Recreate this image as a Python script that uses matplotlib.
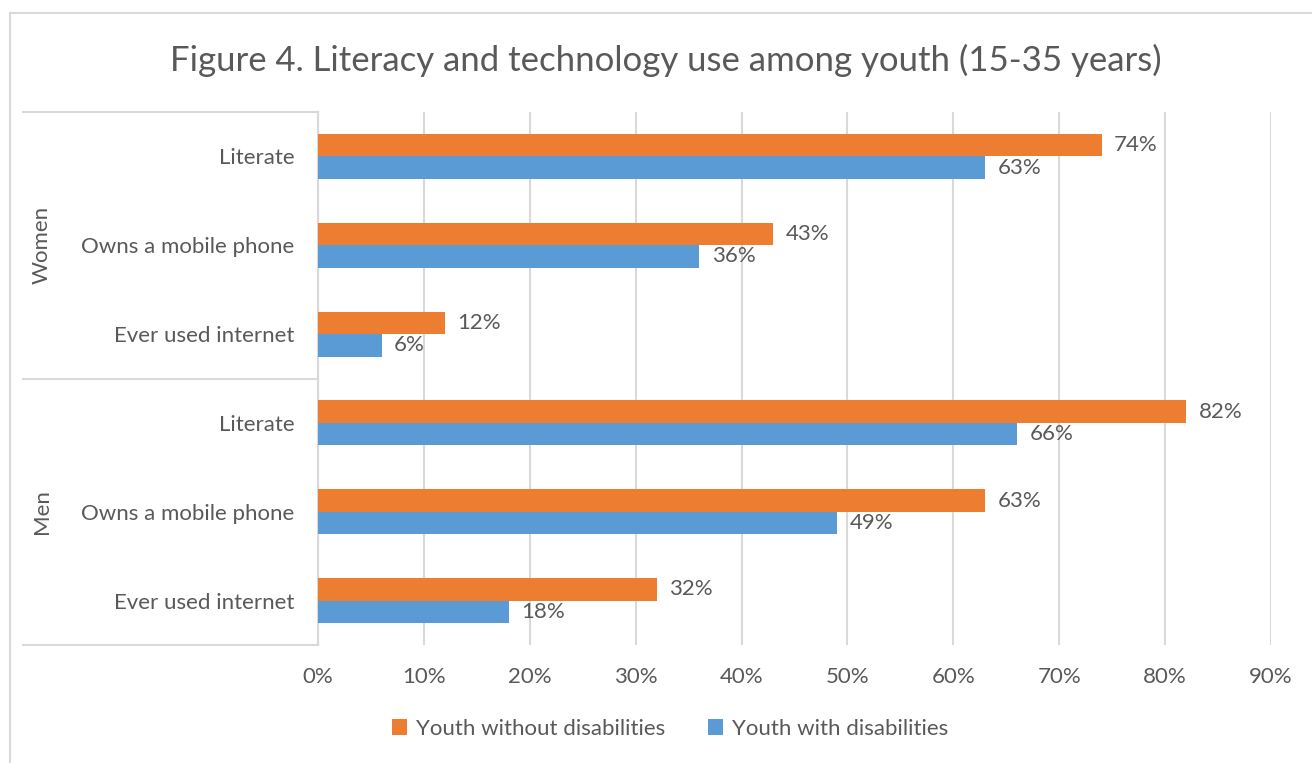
import matplotlib.pyplot as plt
from matplotlib.patches import Rectangle
from matplotlib.lines import Line2D

plt.rcParams['font.family'] = ['Lato', 'DejaVu Sans']

# data, top to bottom
groups = ["Women", "Men"]
items = ["Literate", "Owns a mobile phone", "Ever used internet"]
without_dis = [0.74, 0.43, 0.12, 0.82, 0.63, 0.32]
with_dis = [0.63, 0.36, 0.06, 0.66, 0.49, 0.18]
x_ticks = [0, 0.1, 0.2, 0.3, 0.4, 0.5, 0.6, 0.7, 0.8, 0.9]
series_names = ["Youth without disabilities", "Youth with disabilities"]

ORANGE = "#ED7D31"
BLUE = "#5B9BD5"
TXT = "#595959"
GRID = "#D9D9D9"
FS = 16

W, H = 1312, 763
fig = plt.figure(figsize=(W / 100, H / 100), dpi=100)

# outer chart border
fig.patches.append(Rectangle((10 / W, -0.1), 1.2, 1 - 13 / H + 0.1,
                             transform=fig.transFigure, fill=False,
                             edgecolor=GRID, linewidth=1.5))

x0, x1, y0, y1 = 318, 1271, 112, 645
ax = fig.add_axes([x0 / W, 1 - y1 / H, (x1 - x0) / W, (y1 - y0) / H])

labels = items * len(groups)
n = len(labels)
centers = [i + 0.5 for i in range(n)]
h = 0.253

ax.barh([c - h / 2 for c in centers], without_dis, height=h, color=ORANGE,
        label=series_names[0], zorder=3)
ax.barh([c + h / 2 for c in centers], with_dis, height=h, color=BLUE,
        label=series_names[1], zorder=3)

for c, v in zip(centers, without_dis):
    ax.annotate(f"{v:.0%}", (v, c - h / 2), xytext=(9, 0), textcoords="offset points",
                va="center", ha="left", color=TXT, fontsize=FS)
for c, v in zip(centers, with_dis):
    ax.annotate(f"{v:.0%}", (v, c + h / 2), xytext=(9, 0), textcoords="offset points",
                va="center", ha="left", color=TXT, fontsize=FS)

ax.set_xlim(0, 0.9)
ax.set_ylim(n, 0)
ax.set_xticks(x_ticks)
ax.set_xticklabels([f"{t:.0%}" for t in x_ticks])
ax.set_yticks(centers)
ax.set_yticklabels(labels)
ax.tick_params(axis="both", length=0, labelcolor=TXT, labelsize=FS)
ax.tick_params(axis="y", pad=17)
ax.tick_params(axis="x", pad=16)
ax.grid(axis="x", color=GRID, linewidth=1.5, zorder=0)
for s in ("top", "right", "bottom"):
    ax.spines[s].set_visible(False)
ax.spines["left"].set_color(GRID)
ax.spines["left"].set_linewidth(1.5)

# group axis lines and labels
tr = ax.get_yaxis_transform()
left = (23 - x0) / (x1 - x0)
for yv in (0, 3, 6):
    ax.add_line(Line2D([left, 0], [yv, yv], transform=tr, color=GRID,
                       linewidth=1.5, clip_on=False))
for gi, g in enumerate(groups):
    ax.text((42 - x0) / (x1 - x0), 1.5 + 3 * gi, g, transform=tr, rotation=90,
            ha="center", va="center", color=TXT, fontsize=FS)

fig.text(666 / W, 1 - 60 / H, "Figure 4. Literacy and technology use among youth (15-35 years)",
         ha="center", va="center", color=TXT, fontsize=25)

fig.legend(loc="center", bbox_to_anchor=(670 / W, 1 - 729 / H), ncol=2, frameon=False,
           fontsize=FS, labelcolor=TXT, handlelength=0.7, handleheight=0.7,
           handletextpad=0.4, columnspacing=1.9)

fig.savefig("out.png", dpi=100)
